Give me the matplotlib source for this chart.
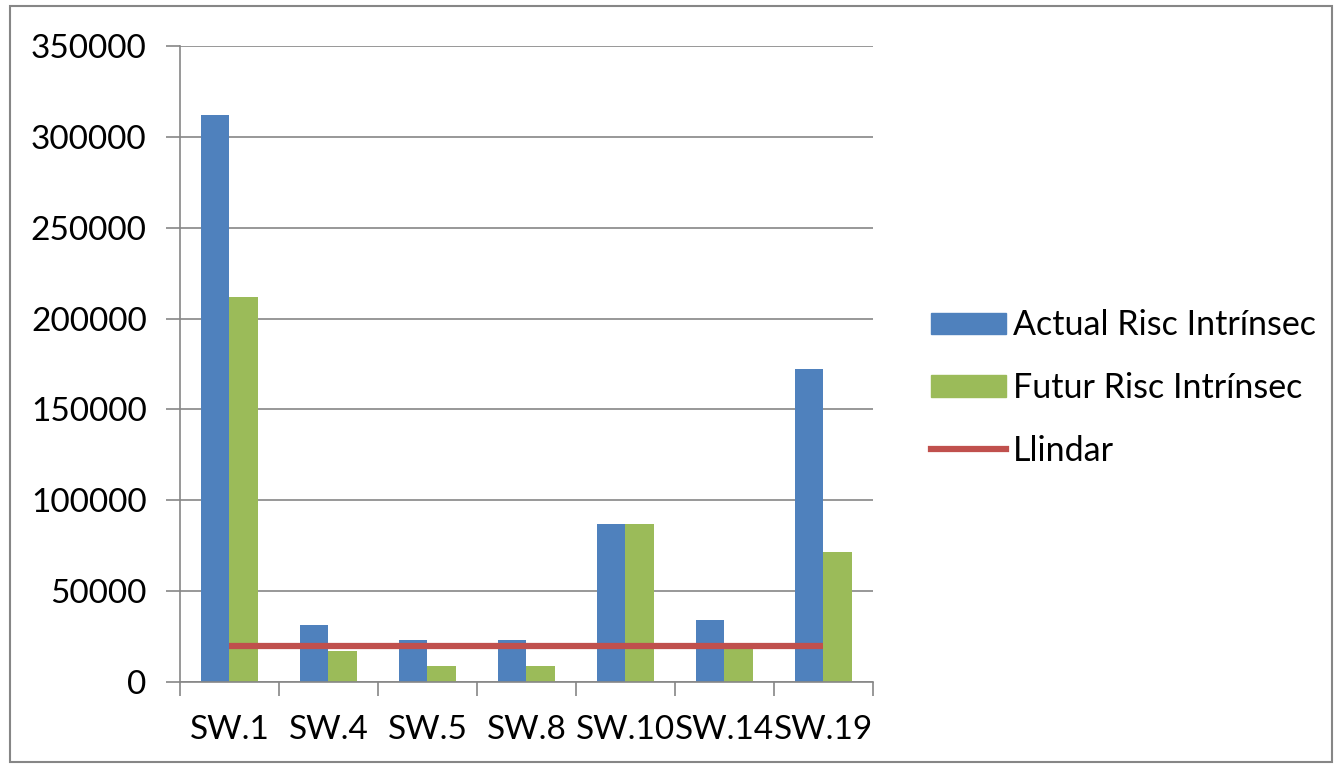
import matplotlib
matplotlib.use('Agg')
import matplotlib.pyplot as plt
import numpy as np
from matplotlib.patches import Rectangle
from matplotlib.lines import Line2D

plt.rcParams.update({'font.family': ['Lato', 'DejaVu Sans']})

# ---- dades llegides del gràfic ----
categories = ['SW.1', 'SW.4', 'SW.5', 'SW.8', 'SW.10', 'SW.14', 'SW.19']
actual = [312000, 31500, 23000, 23000, 87000, 34000, 172000]
futur = [212000, 17000, 9000, 9000, 87000, 19000, 71500]
llindar = [20000] * len(categories)

BLUE, GREEN, RED = '#4F81BD', '#9BBB59', '#C0504D'
GRID = '#868686'

fig = plt.figure(figsize=(13.36, 7.66), dpi=100)
ax = fig.add_axes([0.1347, 0.1097, 0.5187, 0.8303])

x = np.arange(len(categories))
w = 0.29
ax.bar(x - w / 2, actual, w, color=BLUE, label='Actual Risc Intrínsec', zorder=2)
ax.bar(x + w / 2, futur, w, color=GREEN, label='Futur Risc Intrínsec', zorder=2)
ax.plot(x, llindar, color=RED, lw=4.5, label='Llindar', zorder=3,
        solid_capstyle='butt')

ax.set_xlim(-0.5, len(categories) - 0.5)
ax.set_ylim(0, 350000)
ax.set_yticks(np.arange(0, 350001, 50000))
ax.set_xticks(x)
ax.set_xticklabels(categories)
ax.set_xticks(np.arange(-0.5, len(categories)), minor=True)
ax.tick_params(axis='x', which='major', length=0, pad=24, labelsize=24)
ax.tick_params(axis='x', which='minor', length=10, width=1.2, color=GRID,
               direction='out')
ax.tick_params(axis='y', length=10, width=1.2, color=GRID, pad=14,
               labelsize=24, direction='out')
ax.yaxis.grid(True, color=GRID, lw=1.2, zorder=0)
ax.set_axisbelow(True)
for s in ['top', 'right']:
    ax.spines[s].set_visible(False)
for s in ['left', 'bottom']:
    ax.spines[s].set_color(GRID)
    ax.spines[s].set_linewidth(1.2)

handles = [Rectangle((0, 0), 1, 1, color=BLUE),
           Rectangle((0, 0), 1, 1, color=GREEN),
           Line2D([0], [0], color=RED, lw=4.5)]
labels = ['Actual Risc Intrínsec', 'Futur Risc Intrínsec', 'Llindar']
fig.legend(handles, labels, loc='center left',
           bbox_to_anchor=(0.697, 0.4935), frameon=False, fontsize=24.5,
           handlelength=2.2, handleheight=0.6, handletextpad=0.2,
           labelspacing=0.9, borderpad=0, borderaxespad=0)

# marc exterior del gràfic
fig.patches.append(Rectangle((10 / 1336, 4 / 766), 1322 / 1336, 756 / 766,
                             transform=fig.transFigure, fill=False,
                             edgecolor=GRID, lw=1.5))

fig.savefig('out.png', dpi=100)
